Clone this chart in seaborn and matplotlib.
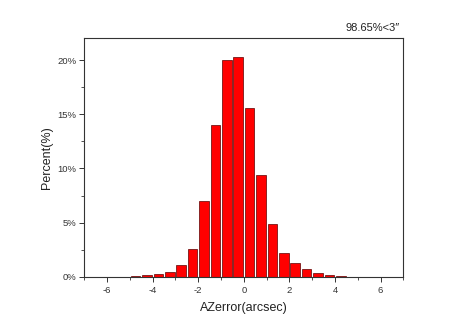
import matplotlib
matplotlib.use("Agg")
import matplotlib.pyplot as plt
from matplotlib.ticker import MultipleLocator, FuncFormatter
import numpy as np
import pandas as pd
import seaborn as sns

# Azimuth error histogram: 0.5 arcsec bins, share of samples per bin (%)
bin_centers = [-5.25, -4.75, -4.25, -3.75, -3.25, -2.75, -2.25, -1.75, -1.25, -0.75, -0.25,
               0.25, 0.75, 1.25, 1.75, 2.25, 2.75, 3.25, 3.75, 4.25, 4.75, 5.25]
percent = [0.03, 0.05, 0.15, 0.25, 0.5, 1.1, 2.55, 7.0, 14.0, 20.0, 20.3,
           15.55, 9.4, 4.9, 2.2, 1.25, 0.75, 0.37, 0.18, 0.08, 0.04, 0.03]
bin_edges = [-5.5, -5.0, -4.5, -4.0, -3.5, -3.0, -2.5, -2.0, -1.5, -1.0, -0.5, 0.0,
             0.5, 1.0, 1.5, 2.0, 2.5, 3.0, 3.5, 4.0, 4.5, 5.0, 5.5]
x_ticks = [-6, -4, -2, 0, 2, 4, 6]
y_ticks = [0, 5, 10, 15, 20]
note = "98.65%<3\u2033"

df = pd.DataFrame({"AZerror": bin_centers, "percent": percent})

sns.set_style("ticks")
plt.rcParams["font.family"] = ["Liberation Sans", "DejaVu Sans"]

fig = plt.figure(figsize=(4.68, 3.32), dpi=100)
ax = fig.add_axes([0.180, 0.1657, 0.682, 0.7189])

sns.histplot(data=df, x="AZerror", weights="percent", bins=bin_edges,
             shrink=0.84, color="#ff0000", alpha=1.0,
             edgecolor="#5a0000", linewidth=0.5, ax=ax)

ax.set_xlim(-7, 7)
ax.set_ylim(0, 22)
ax.set_xticks(x_ticks)
ax.set_yticks(y_ticks)
ax.xaxis.set_minor_locator(MultipleLocator(1))
ax.yaxis.set_minor_locator(MultipleLocator(2.5))
ax.yaxis.set_major_formatter(FuncFormatter(lambda v, p: f"{v:.0f}%"))
ax.xaxis.set_major_formatter(FuncFormatter(lambda v, p: f"{v:.0f}"))

ax.tick_params(axis="both", which="major", direction="out", length=3.5, width=0.7,
               labelsize=6.8, colors="#333333", pad=3)
ax.tick_params(axis="both", which="minor", direction="out", length=2, width=0.6,
               colors="#333333")
ax.tick_params(axis="y", pad=2)

for side in ["top", "right", "bottom", "left"]:
    ax.spines[side].set_visible(True)
    ax.spines[side].set_linewidth(0.8)
    ax.spines[side].set_color("#333333")

ax.set_xlabel("AZerror(arcsec)", fontsize=9, color="#222222", labelpad=5)
ax.set_ylabel("Percent(%)", fontsize=9, color="#222222", labelpad=3)

fig.text(0.855, 0.917, note, ha="right", va="center", fontsize=8, color="#222222")

fig.savefig("out.png", dpi=100)
